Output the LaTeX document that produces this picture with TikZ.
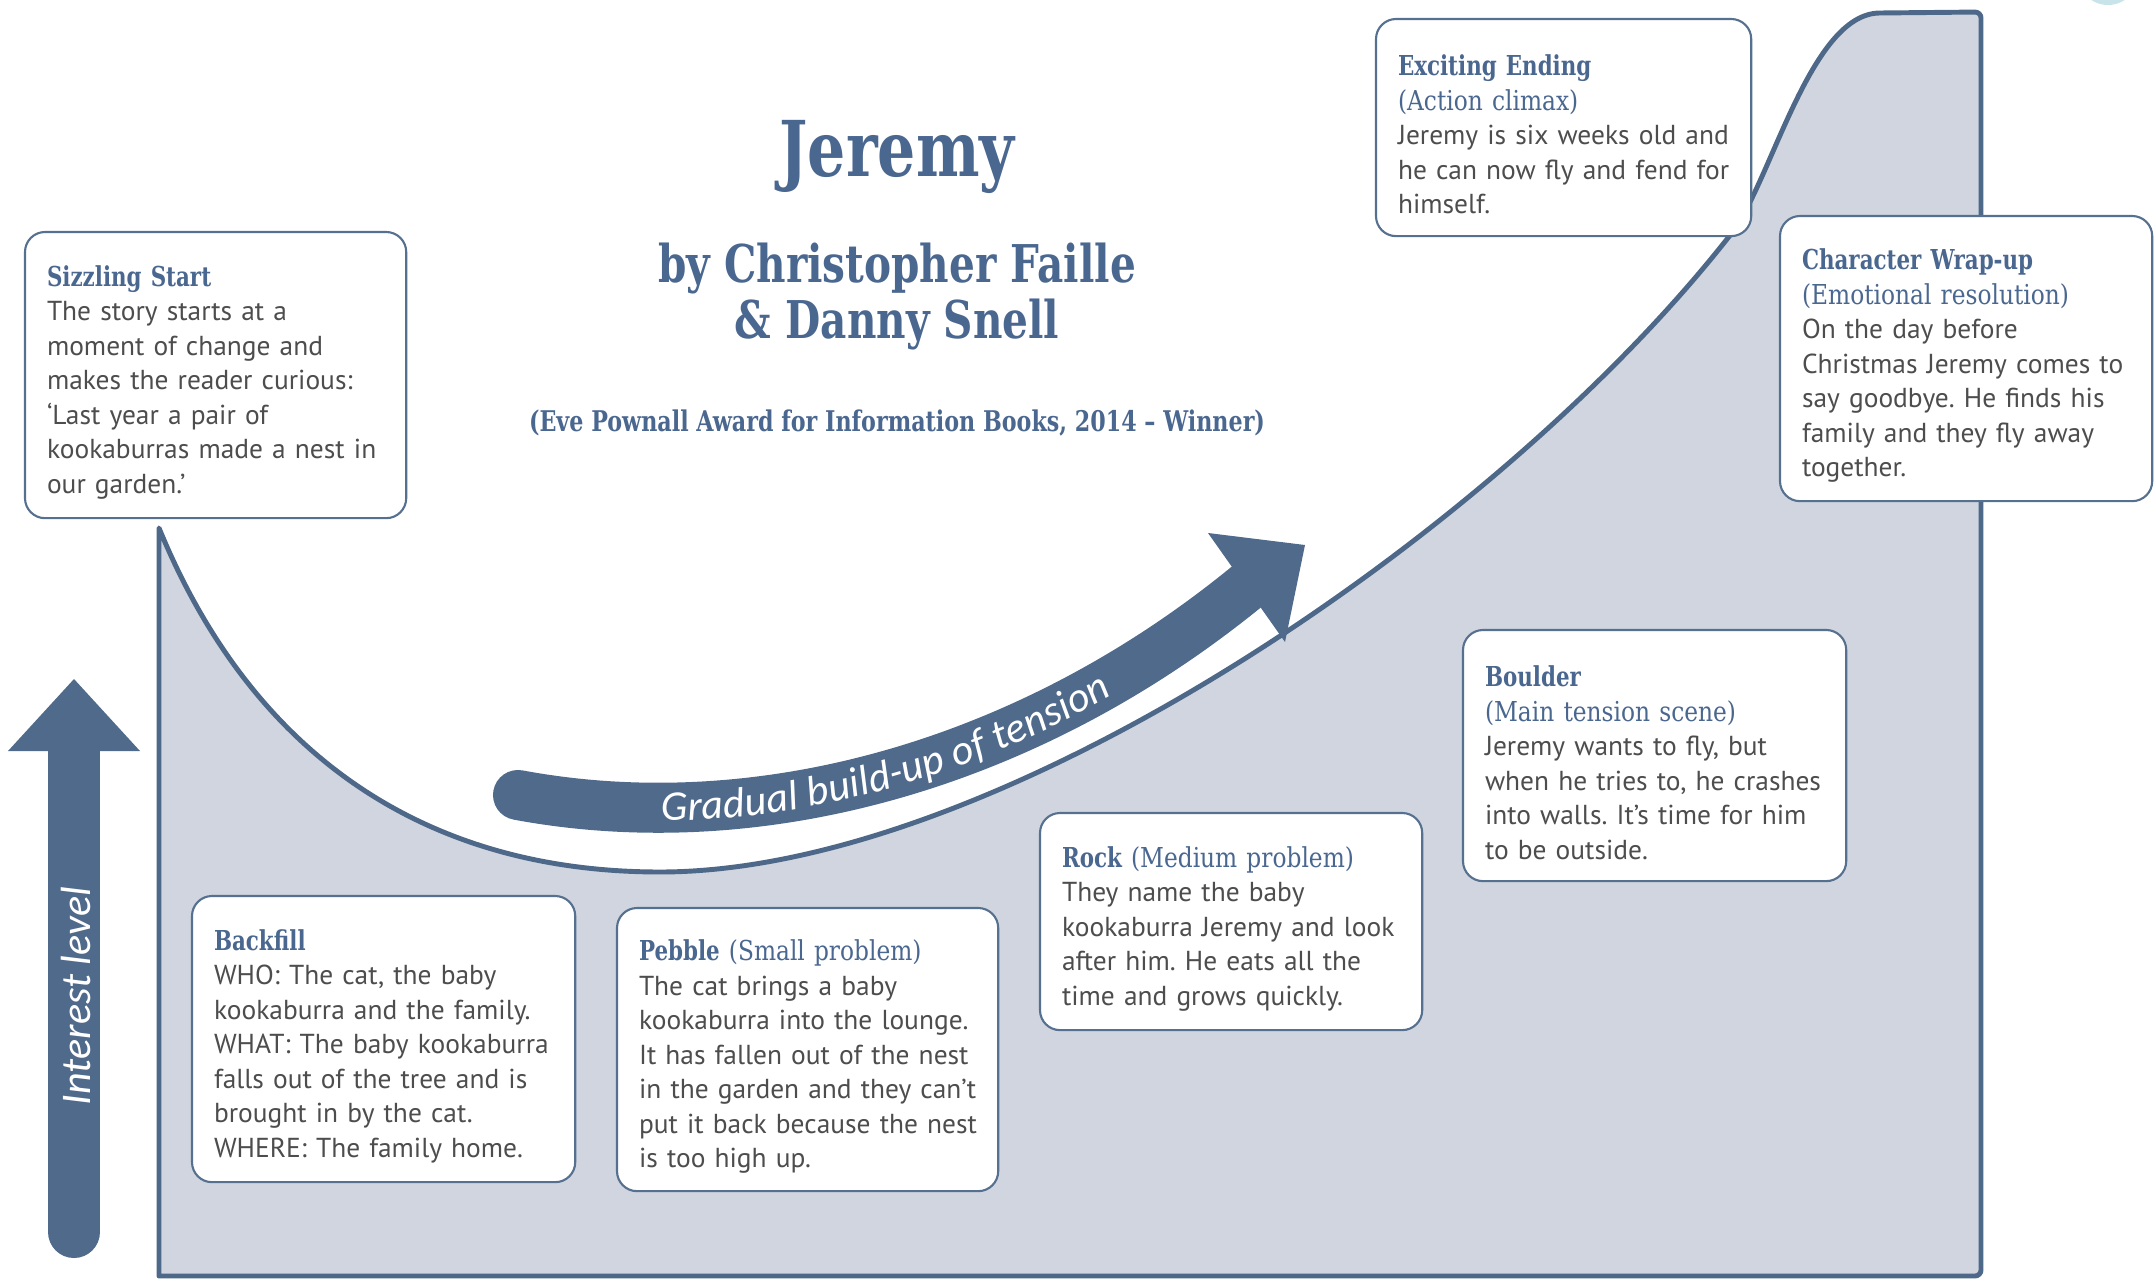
\documentclass[tikz,border=0pt]{standalone}
\usepackage{fontspec}
\setmainfont{PT Sans}
\newfontfamily\slabfont[FakeStretch=0.78]{DejaVu Serif}
\newfontfamily\slabsubfont[FakeStretch=0.85]{DejaVu Serif}
\newfontfamily\labelfont{Carlito}
\usetikzlibrary{decorations.text}
\frenchspacing

\definecolor{curveblue}{HTML}{4D6888}
\definecolor{arrowblue}{HTML}{4F6A8B}
\definecolor{areagray}{HTML}{D0D5E0}
\definecolor{headblue}{HTML}{4A6790}
\definecolor{bodygray}{HTML}{4D4D4D}
\definecolor{boxline}{HTML}{56708F}
\definecolor{dotcyan}{HTML}{C8E3EA}

\newcommand{\storyhead}[1]{\rule{0pt}{0.35cm}{\slabfont\bfseries\color{headblue}#1}}
\newcommand{\storysub}[1]{{\slabsubfont\color{headblue}#1}}

\tikzset{
  storybox/.style={draw=boxline, line width=0.6pt, fill=white, rounded corners=0.2cm,
    anchor=north west, align=left, inner xsep=0.22cm, outer sep=0pt, text=bodygray,
    font=\fontsize{7.8}{9.8}\selectfont},
  titletext/.style={text=headblue, anchor=base, align=center},
  bandtext/.style={text=white, font=\labelfont\itshape\fontsize{12}{12}\selectfont}
}

\begin{document}
\begin{tikzpicture}[x=0.01cm, y=-0.01cm]
	\useasboundingbox (0,0) rectangle (2154,1279);
	% corner dot
	\fill[dotcyan] (2108,-25) circle (0.3cm);

	% interest curve
	\filldraw[fill=areagray, draw=curveblue, line width=1.4pt, line join=round]
		(159,1276) -- (159,528) .. controls (250,750) and (420,872) .. (660,872)
		.. controls (1000,872) and (1500,530) .. (1731,234)
		.. controls (1771,183) and (1810,13) .. (1880,13)
		[rounded corners=0.06cm] -- (1981,12) -- (1981,1276) [sharp corners] -- cycle;

	% interest level arrow
	\coordinate (lvlbot) at (74,1232);
	\coordinate (lvltop) at (74,748);
	\draw[arrowblue, line width=0.52cm, line cap=round] (lvlbot) -- (lvltop);
	\fill[arrowblue] (8,751) -- (74,679) -- (140,751) -- cycle;
	\node[bandtext, rotate=90] (lvl) at (76,996) {Interest level};

	% tension arrow
	\draw[arrowblue, line width=0.5cm, line cap=round]
		(518,795) .. controls (760,840) and (1030,765) .. (1250,584);
	\fill[arrowblue] (1208,533) -- (1305,545) -- (1285,642) -- cycle;
	\path[decorate, decoration={text along path, text align={align=center, right indent=0.32cm}, raise=-0.13cm,
		text={|\labelfont\itshape\fontsize{12}{12}\selectfont\color{white}|Gradual build-up of tension}}]
		(518,795) .. controls (760,840) and (1030,765) .. (1250,584);

	% title
	\node[titletext, font=\slabfont\bfseries\fontsize{21.9}{26}\selectfont] (title) at (897,176) {Jeremy};
	\node[titletext, font=\slabfont\bfseries\fontsize{14.8}{15.8}\selectfont] (authors) at (897,338)
		{by Christopher Faille\\\& Danny Snell};
	\node[titletext, font=\slabfont\bfseries\fontsize{8.1}{9}\selectfont] (award) at (897,431)
		{(Eve Pownall Award for Information Books, 2014 – Winner)};

	% story boxes
	\node[storybox, text width=3.37cm, minimum height=2.86cm] (sizzle) at (25,232)
		{\storyhead{Sizzling Start}\\The story starts at a\\moment of change and\\
		makes the reader curious:\\‘Last year a pair of\\kookaburras made a nest in\\our garden.’};
	\node[storybox, text width=3.39cm, minimum height=2.86cm] (backfill) at (192,896)
		{\storyhead{Backfill}\\WHO: The cat, the baby\\kookaburra and the family.\\
		WHAT: The baby kookaburra\\falls out of the tree and is\\brought in by the cat.\\
		WHERE: The family home.};
	\node[storybox, text width=3.37cm, minimum height=2.83cm] (pebble) at (617,908)
		{\storyhead{Pebble} \storysub{(Small problem)}\\The cat brings a baby\\
		\mbox{kookaburra into the lounge.}\\\mbox{It has fallen out of the nest}\\\mbox{in the garden and they can’t}\\
		\mbox{put it back because the nest}\\is too high up.};
	\node[storybox, text width=3.38cm, minimum height=2.17cm] (rock) at (1040,813)
		{\storyhead{Rock} \storysub{(Medium problem)}\\They name the baby\\
		\mbox{kookaburra Jeremy and look}\\after him. He eats all the\\time and grows quickly.};
	\node[storybox, text width=3.39cm, minimum height=2.51cm] (boulder) at (1463,630)
		{\storyhead{Boulder}\\\storysub{(Main tension scene)}\\Jeremy wants to fly, but\\
		\mbox{when he tries to, he crashes}\\\mbox{into walls. It’s time for him}\\to be outside.};
	\node[storybox, text width=3.31cm, minimum height=2.17cm] (ending) at (1376,19)
		{\storyhead{Exciting Ending}\\\storysub{(Action climax)}\\\mbox{Jeremy is six weeks old and}\\
		\mbox{he can now fly and fend for}\\himself.};
	\node[storybox, text width=3.28cm, minimum height=2.85cm] (wrapup) at (1780,216)
		{\storyhead{Character Wrap-up}\\\storysub{(Emotional resolution)}\\On the day before\\
		\mbox{Christmas Jeremy comes to}\\\mbox{say goodbye. He finds his}\\\mbox{family and they fly away}\\together.};
\end{tikzpicture}
\end{document}
